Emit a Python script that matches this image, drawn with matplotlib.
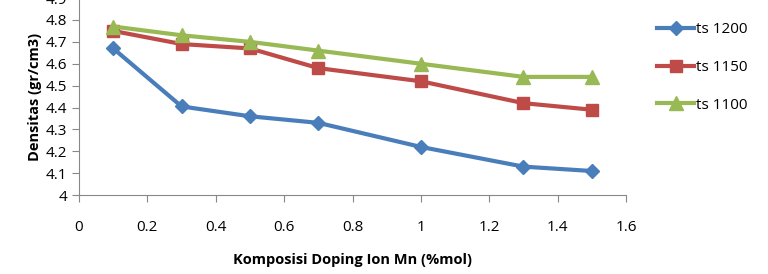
import matplotlib.pyplot as plt

# composition of Mn doping (%mol)
x_mn = [0.1, 0.3, 0.5, 0.7, 1.0, 1.3, 1.5]
# density (gr/cm3) for each sintering temperature
ts_1200 = [4.67, 4.405, 4.36, 4.33, 4.22, 4.13, 4.11]
ts_1150 = [4.75, 4.69, 4.67, 4.58, 4.52, 4.42, 4.39]
ts_1100 = [4.77, 4.73, 4.70, 4.66, 4.60, 4.54, 4.54]
labels = ['ts 1200', 'ts 1150', 'ts 1100']

plt.rcParams['font.family'] = ['Open Sans', 'DejaVu Sans']

fig = plt.figure(figsize=(7.68, 2.74), dpi=100)
ax = fig.add_axes([0.1029, 0.288, 0.7122, 0.719])

ax.plot(x_mn, ts_1200, color='#4A7EBB', lw=3, marker='D', ms=7, label=labels[0])
ax.plot(x_mn, ts_1150, color='#BE4B48', lw=3, marker='s', ms=9, label=labels[1])
ax.plot(x_mn, ts_1100, color='#98B954', lw=3, marker='^', ms=10, label=labels[2])

ax.set_xlim(0, 1.6)
ax.set_ylim(4, 4.9)
ax.set_xticks([0, 0.2, 0.4, 0.6, 0.8, 1.0, 1.2, 1.4, 1.6])
ax.set_xticklabels(['0', '0.2', '0.4', '0.6', '0.8', '1', '1.2', '1.4', '1.6'])
ax.set_yticks([4, 4.1, 4.2, 4.3, 4.4, 4.5, 4.6, 4.7, 4.8, 4.9])
ax.set_yticklabels(['4', '4.1', '4.2', '4.3', '4.4', '4.5', '4.6', '4.7', '4.8', '4.9'])

for s in ['top', 'right']:
    ax.spines[s].set_visible(False)
for s in ['left', 'bottom']:
    ax.spines[s].set_color('#888888')
ax.tick_params(axis='both', colors='#888888', length=5, labelcolor='black', labelsize=11)
ax.tick_params(axis='x', pad=13)

ax.set_xlabel('Komposisi Doping Ion Mn (%mol)', fontsize=10.5, fontweight='bold', labelpad=13)
ax.set_ylabel('Densitas (gr/cm3)', fontsize=10.5, fontweight='bold', labelpad=3)

fig.legend(loc='upper left', bbox_to_anchor=(0.838, 0.97), frameon=False,
           fontsize=11, labelspacing=1.5, handlelength=2.4, handletextpad=0.15)

fig.savefig('out.png', dpi=100)
